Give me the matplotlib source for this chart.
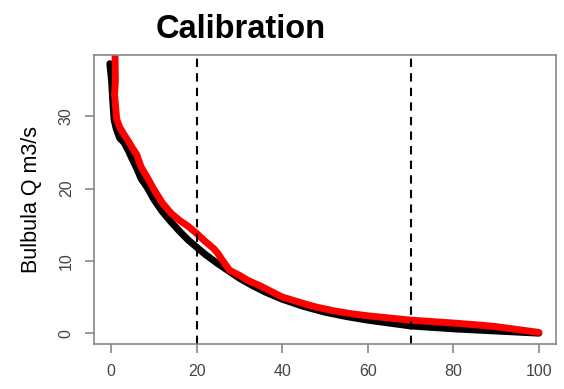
import numpy as np
import matplotlib
matplotlib.use('Agg')
from matplotlib import pyplot as plt

plt.rcParams['font.family'] = ['Liberation Sans', 'DejaVu Sans']

# exceedance (%) and flow (m3/s)
obs_x = [-0.3, 0.1, 0.4, 0.7, 1.2, 2, 3, 4, 5, 6, 7, 8.4, 10, 12, 14, 16, 18, 20,
         22, 25, 28, 30, 33, 36, 40, 45, 50, 55, 60, 65, 70, 75, 80, 85, 90, 95, 100]
obs_q = [37.3, 35, 32, 29.5, 28.3, 27, 26.4, 25.3, 24.0, 22.8, 21.4, 20.2, 18.5, 16.8,
         15.4, 14.1, 12.9, 11.9, 10.9, 9.6, 8.4, 7.6, 6.6, 5.7, 4.7, 3.7, 2.9, 2.3,
         1.8, 1.4, 1.0, 0.8, 0.6, 0.45, 0.3, 0.15, 0.0]

sim_x = [0.9, 1.0, 0.8, 1.1, 1.3, 2, 3, 4, 5, 6, 7, 8.4, 10, 12, 14, 16, 18, 20, 22,
         24, 25, 26, 27.7, 30, 32, 35, 37, 40, 45, 48, 52, 56, 60, 65, 70, 75, 80,
         86.5, 90, 95, 100]
sim_q = [39, 35, 33, 31, 29.6, 28.5, 27.5, 26.6, 25.6, 24.7, 23.0, 21.6, 19.9, 18.0,
         16.6, 15.6, 14.8, 13.8, 12.7, 11.7, 11.0, 10.1, 8.7, 8.0, 7.3, 6.5, 5.9,
         5.0, 4.1, 3.6, 3.1, 2.7, 2.4, 2.1, 1.8, 1.6, 1.4, 1.1, 0.9, 0.5, 0.1]

limits = [20, 70]

fig = plt.figure(figsize=(5.64, 3.89), dpi=100)
ax = fig.add_axes([94/564, 1 - 344/389, (556-94)/564, (344-55)/389])

ax.plot(obs_x, obs_q, color='black', lw=5, solid_capstyle='round', solid_joinstyle='round')
ax.plot(sim_x, sim_q, color='#ff0000', lw=5, solid_capstyle='round', solid_joinstyle='round')

for v in limits:
    ax.axvline(v, color='black', linestyle=(0, (4, 3)), lw=1.5)

ax.set_xlim(-4, 104)
ax.set_ylim(-1.5, 38.5)
ax.set_xticks([0, 20, 40, 60, 80, 100])
ax.set_yticks([0, 10, 20, 30])
for s in ax.spines.values():
    s.set_color('#888888')
    s.set_linewidth(1.2)
ax.tick_params(colors='#888888', length=6.5, width=1.2, labelsize=11.5, labelcolor='#444444', pad=8)
plt.setp(ax.get_yticklabels(), rotation=90, va='center')

ax.set_ylabel('Bulbula Q m3/s', fontsize=15.5, labelpad=12)
fig.text(241/564, 1 - 38/389, 'Calibration', fontsize=23.5, fontweight='bold',
         ha='center', va='baseline')

plt.savefig('out.png', dpi=100)
